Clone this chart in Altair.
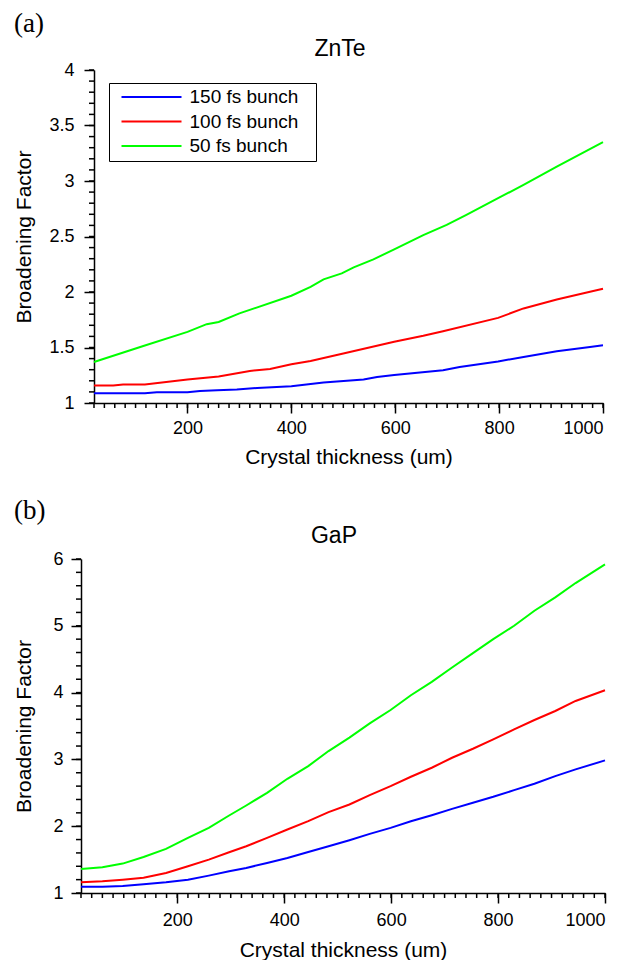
import altair as alt
import pandas as pd

SERIES = ["150 fs bunch", "100 fs bunch", "50 fs bunch"]
COLORS = ["#0000ff", "#ff0000", "#00ff00"]

X_MAJOR = [200, 400, 600, 800, 1000]
X_MINOR = list(range(20, 1001, 20))

# ---- Panel (a): ZnTe ----
a150_x = [20, 118, 141, 200, 224, 257, 295, 334, 400, 462, 539, 565, 598, 692, 724, 798, 847, 911, 975, 1000]
a150_y = [1.088, 1.088, 1.097, 1.097, 1.108, 1.115, 1.121, 1.136, 1.151, 1.184, 1.211, 1.235, 1.253, 1.295, 1.325, 1.374, 1.415, 1.467, 1.505, 1.52]
a100_x = [20, 57, 76, 118, 200, 260, 320, 359, 400, 437, 500, 598, 654, 692, 798, 847, 911, 975, 1000]
a100_y = [1.157, 1.157, 1.166, 1.166, 1.211, 1.238, 1.289, 1.307, 1.349, 1.379, 1.446, 1.551, 1.605, 1.647, 1.767, 1.852, 1.933, 2.002, 2.03]
a50_x = [20, 115, 200, 237, 260, 300, 400, 437, 462, 497, 520, 558, 598, 654, 699, 737, 798, 847, 911, 1000]
a50_y = [1.37, 1.514, 1.641, 1.71, 1.73, 1.807, 1.966, 2.047, 2.114, 2.168, 2.222, 2.294, 2.384, 2.513, 2.604, 2.694, 2.845, 2.965, 3.13, 3.35]
a_y_major = [1, 1.5, 2, 2.5, 3, 3.5, 4]
a_y_minor = [round(1 + 0.1 * i, 1) for i in range(31)]

# ---- Panel (b): GaP ----
b_x = [20, 60, 98, 137, 179, 220, 259, 297, 329, 368, 406, 445, 483, 522, 560, 599, 637, 676, 714, 753, 791, 830, 868, 907, 945, 1000]
b150_y = [1.095, 1.095, 1.105, 1.13, 1.16, 1.20, 1.26, 1.325, 1.375, 1.45, 1.525, 1.615, 1.70, 1.79, 1.885, 1.975, 2.075, 2.165, 2.26, 2.35, 2.44, 2.54, 2.635, 2.75, 2.85, 2.985]
b100_y = [1.16, 1.175, 1.20, 1.23, 1.30, 1.40, 1.50, 1.61, 1.70, 1.825, 1.95, 2.075, 2.21, 2.325, 2.465, 2.60, 2.74, 2.875, 3.025, 3.16, 3.30, 3.45, 3.59, 3.725, 3.875, 4.035]
b50_y = [1.36, 1.385, 1.44, 1.54, 1.66, 1.825, 1.975, 2.16, 2.31, 2.50, 2.71, 2.90, 3.125, 3.325, 3.54, 3.74, 3.96, 4.16, 4.375, 4.59, 4.80, 5.00, 5.225, 5.425, 5.64, 5.92]
b_y_major = [1, 2, 3, 4, 5, 6]
b_y_minor = [round(1 + 0.2 * i, 1) for i in range(26)]

W = 524  # common view width (panel b plot width)


def make_df(xs_list, ys_list):
    rows = []
    for s, xs, ys in zip(SERIES, xs_list, ys_list):
        for x, y in zip(xs, ys):
            rows.append({"series": s, "x": x, "y": y})
    return pd.DataFrame(rows)


def panel(df, tag, name, ymax, ymajor, yminor, h, x0, x1, lx, ly,
          ylabpad, ytitlepad, xlabpad, xtitlepad, title_dx, title_off):
    xscale = alt.Scale(domain=[20, 1000], nice=False, zero=False, range=[x0, x1])
    yscale = alt.Scale(domain=[1, ymax], nice=False, zero=False)
    xaxis = alt.Axis(orient="bottom", values=X_MAJOR, format="d",
                     title="Crystal thickness (um)", zindex=0,
                     tickSize=10, labelPadding=xlabpad, titlePadding=xtitlepad, grid=False)
    yaxis = alt.Axis(orient="left", values=ymajor, format="~g", title="Broadening Factor",
                     offset=-x0, tickSize=10, labelPadding=ylabpad, titlePadding=ytitlepad,
                     grid=False, zindex=0)
    # minor ticks, drawn through the shared scales
    xminor = alt.Chart(pd.DataFrame({"v": X_MINOR})).mark_rule(
        color="black", strokeWidth=1.5, clip=False).encode(
        x=alt.X("v:Q", scale=xscale, axis=xaxis),
        y=alt.value(h), y2=alt.value(h + 5),
    )
    yminor_l = alt.Chart(pd.DataFrame({"w": yminor})).mark_rule(
        color="black", strokeWidth=1.5, clip=False).encode(
        y=alt.Y("w:Q", scale=yscale, axis=yaxis),
        x=alt.value(x0), x2=alt.value(x0 - 5),
    )
    lines = alt.Chart(df).mark_line(strokeWidth=2).encode(
        x=alt.X("x:Q", scale=xscale, axis=xaxis),
        y=alt.Y("y:Q", scale=yscale, axis=yaxis),
        color=alt.Color("series:N", scale=alt.Scale(domain=SERIES, range=COLORS),
                        legend=alt.Legend(orient="none", legendX=lx, legendY=ly, title=None,
                                          strokeColor="black", fillColor="white", padding=4.5,
                                          rowPadding=4.5,
                                          symbolType="M-0.375,0H14.625M46,0",
                                          symbolSize=64, symbolStrokeWidth=2, labelOffset=57,
                                          labelFontSize=19, labelFont="Liberation Sans",
                                          labelColor="black")),
    )
    layer = alt.layer(xminor, yminor_l, lines).properties(
        width=W, height=h,
        title=alt.Title(name, fontSize=23, fontWeight="normal", font="Liberation Sans",
                        color="black", frame="group", anchor="middle", dx=title_dx,
                        offset=title_off),
    )
    return alt.vconcat(layer, title=alt.Title(tag, anchor="start", font="Liberation Serif",
                                              fontSize=27, fontWeight="normal", color="black",
                                              offset=0))


df_a = make_df([a150_x, a100_x, a50_x], [a150_y, a100_y, a50_y])
df_b = make_df([b_x, b_x, b_x], [b150_y, b100_y, b50_y])

pa = panel(df_a, "(a)", "ZnTe", 4, a_y_major, a_y_minor, 333, 13, 522, 28, 13,
           10, 14, 6, 9, -3, 0)
pb = panel(df_b, "(b)", "GaP", 6, b_y_major, b_y_minor, 334, 0, W, 20, 20,
           8, 18, 8, 10, -9, 2)

chart = alt.concat(pa, pb, columns=1).properties(
    spacing=30,
    padding={"left": 13, "top": 10, "right": 4, "bottom": 0},
).configure(font="Liberation Sans").configure_view(stroke=None).configure_axis(
    labelFont="Liberation Sans", labelFontSize=18, labelColor="black",
    titleFont="Liberation Sans", titleFontSize=21, titleFontWeight="normal", titleColor="black",
    domainColor="black", domainWidth=1.5, tickColor="black", tickWidth=1.5,
)

chart.save("out.html", embed_options={"renderer": "svg", "actions": False})
